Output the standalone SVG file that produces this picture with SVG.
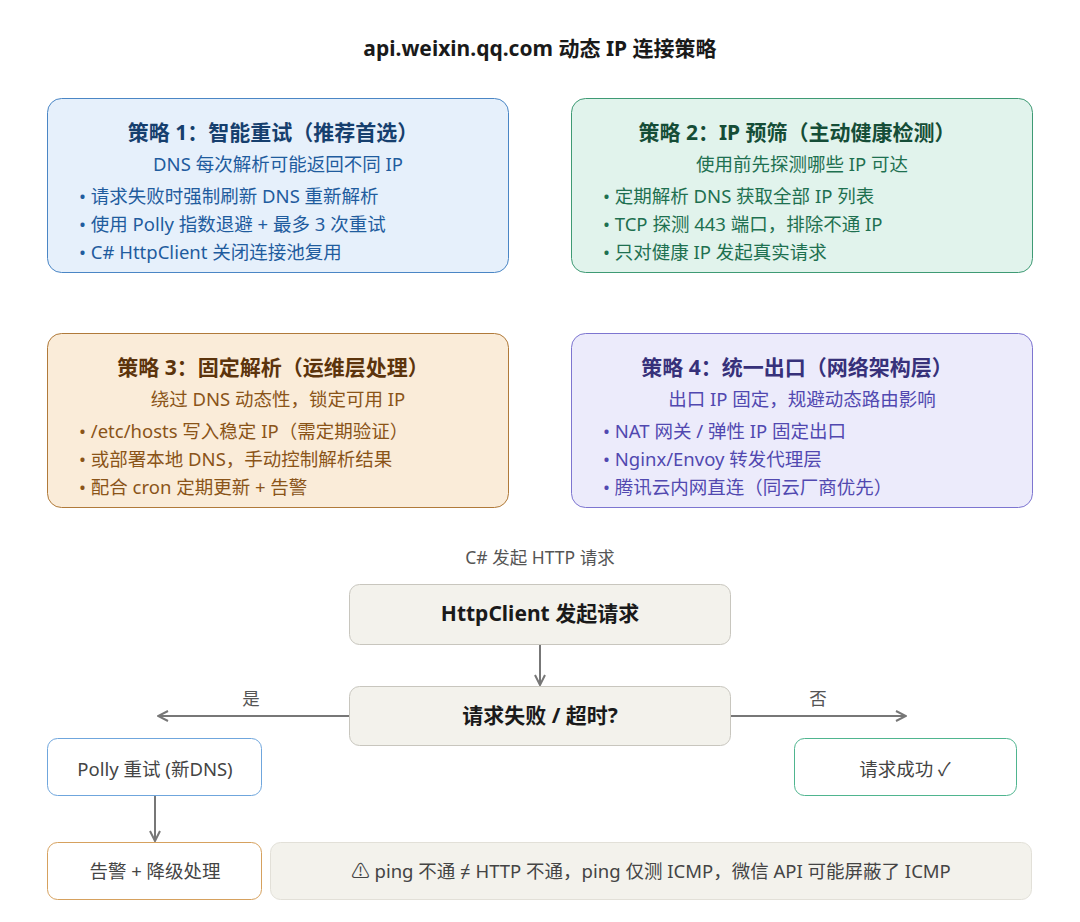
<svg xmlns="http://www.w3.org/2000/svg" width="1080" height="922" viewBox="0 0 1080 922">
<style>
text{font-family:"Noto Sans","Noto Sans CJK SC",sans-serif}
.title{font-size:21px;font-weight:bold;fill:#1a1a1a}
.h{font-size:21px;font-weight:bold;text-anchor:middle}
.sub{font-size:18.5px;text-anchor:middle}
.li{font-size:18.5px}
.b1 rect{fill:#e6f0fb;stroke:#4a86c5}
.b1 text{fill:#1f5c9e}
.b1 .h{fill:#163f6e}
.b2 rect{fill:#e1f3ec;stroke:#3e9a74}
.b2 text{fill:#1e7050}
.b2 .h{fill:#154d37}
.b3 rect{fill:#faecd9;stroke:#b07a3a}
.b3 text{fill:#8a5418}
.b3 .h{fill:#5c340c}
.b4 rect{fill:#ecebfb;stroke:#7d75d0}
.b4 text{fill:#5148b0}
.b4 .h{fill:#37317a}
.flow{fill:#f3f2ec;stroke:#c8c6be;stroke-width:1}
.ft{font-size:21px;font-weight:bold;fill:#1a1a1a;text-anchor:middle}
.nt{font-size:18.5px;fill:#444;text-anchor:middle}
.lbl{font-size:17.5px;fill:#555;text-anchor:middle}
.conn line{stroke:#777;stroke-width:2;fill:none}
</style>
<defs>
<marker id="ah" viewBox="0 0 12 12" refX="11" refY="6" markerWidth="12" markerHeight="12" markerUnits="userSpaceOnUse" orient="auto">
<path d="M1,1 L11,6 L1,11" fill="none" stroke="#777" stroke-width="2"/>
</marker>
</defs>
<rect width="1080" height="922" fill="#ffffff"/>
<text class="title" x="540" y="56" text-anchor="middle">api.weixin.qq.com 动态 IP 连接策略</text>

<g id="strategy1" class="b1">
<rect x="47.5" y="98.5" width="461" height="174" rx="14"/>
<text class="h" x="273" y="140">策略 1：智能重试（推荐首选）</text>
<text class="sub" x="278" y="171">DNS 每次解析可能返回不同 IP</text>
<text class="li" x="79" y="203">• 请求失败时强制刷新 DNS 重新解析</text>
<text class="li" x="79" y="231">• 使用 Polly 指数退避 + 最多 3 次重试</text>
<text class="li" x="79" y="259">• C# HttpClient 关闭连接池复用</text>
</g>

<g id="strategy2" class="b2">
<rect x="571.5" y="98.5" width="461" height="174" rx="14"/>
<text class="h" x="797" y="140">策略 2：IP 预筛（主动健康检测）</text>
<text class="sub" x="802" y="171">使用前先探测哪些 IP 可达</text>
<text class="li" x="603" y="203">• 定期解析 DNS 获取全部 IP 列表</text>
<text class="li" x="603" y="231">• TCP 探测 443 端口，排除不通 IP</text>
<text class="li" x="603" y="259">• 只对健康 IP 发起真实请求</text>
</g>

<g id="strategy3" class="b3">
<rect x="47.5" y="333.5" width="461" height="174" rx="14"/>
<text class="h" x="273" y="375">策略 3：固定解析（运维层处理）</text>
<text class="sub" x="278" y="406">绕过 DNS 动态性，锁定可用 IP</text>
<text class="li" x="79" y="438">• /etc/hosts 写入稳定 IP（需定期验证）</text>
<text class="li" x="79" y="466">• 或部署本地 DNS，手动控制解析结果</text>
<text class="li" x="79" y="494">• 配合 cron 定期更新 + 告警</text>
</g>

<g id="strategy4" class="b4">
<rect x="571.5" y="333.5" width="461" height="174" rx="14"/>
<text class="h" x="797" y="375">策略 4：统一出口（网络架构层）</text>
<text class="sub" x="802" y="406">出口 IP 固定，规避动态路由影响</text>
<text class="li" x="603" y="438">• NAT 网关 / 弹性 IP 固定出口</text>
<text class="li" x="603" y="466">• Nginx/Envoy 转发代理层</text>
<text class="li" x="603" y="494">• 腾讯云内网直连（同云厂商优先）</text>
</g>

<text class="lbl" x="540" y="564">C# 发起 HTTP 请求</text>

<g id="connectors" class="conn">
<line x1="540" y1="645" x2="540" y2="685" marker-end="url(#ah)"/>
<line x1="349" y1="716" x2="158" y2="716" marker-end="url(#ah)"/>
<line x1="731" y1="716" x2="906" y2="716" marker-end="url(#ah)"/>
<line x1="155" y1="795" x2="155" y2="841" marker-end="url(#ah)"/>
<text class="lbl" x="251" y="705">是</text>
<text class="lbl" x="818" y="705">否</text>
</g>

<g id="request">
<rect class="flow" x="349.5" y="584.5" width="381" height="60" rx="10"/>
<text class="ft" x="540" y="621">HttpClient 发起请求</text>
</g>

<g id="decision">
<rect class="flow" x="349.5" y="686.5" width="381" height="59" rx="10"/>
<text class="ft" x="540" y="723">请求失败 / 超时?</text>
</g>

<g id="retry">
<rect x="47.5" y="738.5" width="214" height="57" rx="10" fill="#ffffff" stroke="#6fa6dd"/>
<text class="nt" x="155" y="776">Polly 重试 (新DNS)</text>
</g>

<g id="success">
<rect x="794.5" y="738.5" width="222" height="57" rx="10" fill="#ffffff" stroke="#4fb58f"/>
<text class="nt" x="905" y="776">请求成功 ✓</text>
</g>

<g id="alert">
<rect x="47.5" y="842.5" width="214" height="57" rx="10" fill="#ffffff" stroke="#d6a15e"/>
<text class="nt" x="155" y="878">告警 + 降级处理</text>
</g>

<g id="note">
<rect x="270.5" y="842.5" width="761" height="57" rx="10" fill="#f3f2ec" stroke="#e2e0d8"/>
<text class="nt" x="651" y="878">⚠ ping 不通 ≠ HTTP 不通，ping 仅测 ICMP，微信 API 可能屏蔽了 ICMP</text>
</g>
</svg>
